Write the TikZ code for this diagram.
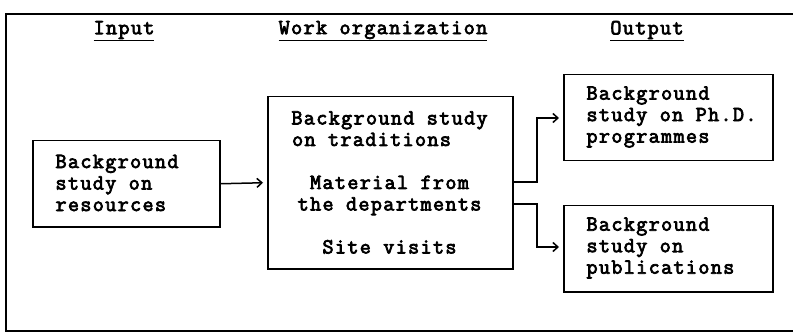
\documentclass[tikz,border=0pt]{standalone}
\usepackage{fontspec}
\newfontfamily\twfont{Latin Modern Mono}[FakeBold=3.5,LetterSpace=6.3]
\usetikzlibrary{arrows.meta}
\begin{document}
\begin{tikzpicture}[x=1pt,y=-1pt,
  every node/.style={font=\twfont\fontsize{21.5}{21.5}\selectfont},
  boxnode/.style={draw,line width=1.5pt,inner sep=0pt,anchor=north west},
  tip/.style={line width=1.5pt,-{Straight Barb[length=5pt,width=9pt,line width=1.5pt]}}]
\useasboundingbox (0,0) rectangle (793,334);
\draw[line width=1.5pt] (820,14) -- (6,14) -- (6,331) -- (820,331);
% headings
\node (hin) at (124,31) {\underline{Input}};
\node (hwork) at (383,31) {\underline{Work organization}};
\node (hout) at (647,31) {\underline{Output}};
% boxes
\node[boxnode,minimum width=187pt,minimum height=86pt] (in) at (32,140) {};
\node[anchor=west,align=left] (intxt) at (52,183) {Background\\study on\\resources};
\node[boxnode,minimum width=245pt,minimum height=172pt] (work) at (267,96) {};
\node[align=center] (worktxt) at (389.5,182.5) {Background study\\on traditions\phantom{xxx}\\[21.5pt]Material from\\the departments\\[21.5pt]Site visits};
\node[boxnode,minimum width=209pt,minimum height=86pt] (o1) at (563,74) {};
\node[anchor=west,align=left] (o1txt) at (583,117) {Background\\study on Ph.D.\\programmes};
\node[boxnode,minimum width=209pt,minimum height=86pt] (o2) at (563,205) {};
\node[anchor=west,align=left] (o2txt) at (583,248) {Background\\study on\\publications};
% connectors
\draw[tip] (in.east) -- ([xshift=-4pt]work.west);
\coordinate (j1) at (537,182);
\coordinate (j2) at (537,204);
\draw[tip] (work.east |- j1) -- (j1) |- ([xshift=-4pt]o1.west |- 0,118);
\draw[tip] (work.east |- j2) -- (j2) |- ([xshift=-4pt]o2.west |- 0,247);
\end{tikzpicture}
\end{document}
